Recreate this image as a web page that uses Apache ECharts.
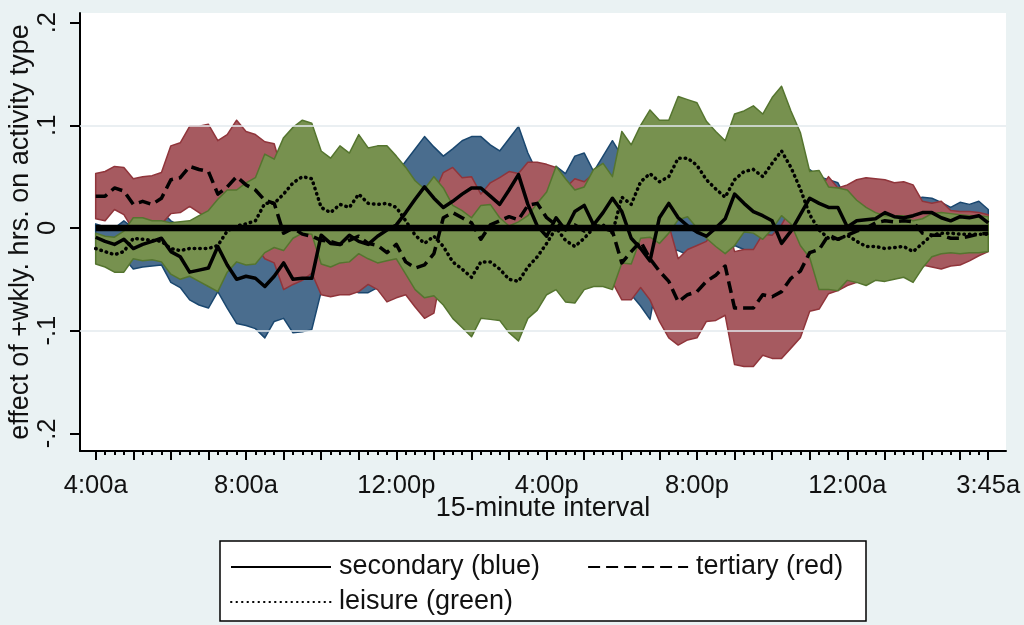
<!DOCTYPE html>
<html lang="en">
<head>
    <meta charset="UTF-8">
    <script src="https://cdn.jsdelivr.net/npm/echarts@6/dist/echarts.min.js"></script>
    <title>effect by 15-minute interval</title>
    <style>
        html, body { margin: 0; padding: 0; background: #eaf2f3; }
        #chartArea { width: 1024px; height: 625px; }
    </style>
</head>
<body>
<div id="chartArea"></div>
<script>
    // 96 quarter-hour slots, 4:00a .. 3:45a
    var slotCount = 96;
    var xLabelPos = [0, 16, 32, 48, 64, 80, 95];
    var xLabels = ['4:00a', '8:00a', '12:00p', '4:00p', '8:00p', '12:00a', '3:45a'];
    var hourTicks = [0, 4, 8, 12, 16, 20, 24, 28, 32, 36, 40, 44, 48, 52, 56, 60, 64, 68, 72, 76, 80, 84, 88, 92, 95];
    var yTicks = [-0.2, -0.1, 0, 0.1, 0.2];
    var yLabels = ['-.2', '-.1', '0', '.1', '.2'];

    // secondary (blue band, solid line): point estimate and half-width of the band
    var secMid = [-.009,-.013,-.016,-.011,-.020,-.016,-.013,-.010,-.023,-.028,
        -.043,-.041,-.039,-.018,-.036,-.050,-.047,-.049,-.057,-.047,
        -.034,-.050,-.049,-.049,-.007,-.015,-.016,-.007,-.013,-.016,
        -.008,-.002,.003,.015,.028,.040,.029,.020,.026,.033,
        .039,.039,.031,.023,.037,.052,.023,.002,-.008,.010,
        -.002,.016,.022,.003,.015,.029,.016,-.010,-.020,-.032,
        .010,.024,.010,.002,-.004,-.008,.000,.009,.033,.024,
        .016,.012,.007,-.015,-.003,.013,.029,.024,.020,.020,
        .001,.007,.008,.009,.015,.011,.010,.012,.015,.015,
        .010,.007,.011,.010,.012,.005];
    var secHalf = [.013,.014,.016,.018,.020,.022,.024,.026,.030,.030,
        .027,.034,.039,.044,.042,.043,.048,.049,.050,.044,
        .054,.052,.052,.050,.055,.050,.047,.053,.050,.047,
        .050,.050,.050,.050,.049,.049,.050,.050,.051,.052,
        .050,.050,.050,.052,.050,.047,.050,.052,.052,.050,
        .055,.054,.051,.052,.055,.056,.054,.055,.056,.057,
        .050,.045,.032,.028,.028,.030,.035,.040,.050,.045,
        .040,.036,.033,.031,.029,.031,.028,.026,.027,.024,
        .025,.022,.023,.020,.019,.018,.018,.016,.015,.014,
        .015,.013,.014,.013,.014,.013];

    // tertiary (red band, dashed line)
    var terMid = [.031,.031,.039,.036,.023,.026,.023,.029,.047,.049,
        .060,.057,.055,.033,.040,.050,.042,.037,.027,.024,
        -.005,.000,-.006,-.008,-.012,-.013,-.016,-.012,-.008,-.015,
        -.017,-.024,-.016,-.033,-.039,-.036,-.025,.010,.015,.010,
        .005,-.011,.003,.007,.011,.008,.022,.024,.010,.003,
        .000,.003,-.003,.003,.000,-.003,-.034,-.023,-.013,-.030,
        -.042,-.052,-.072,-.065,-.062,-.052,-.046,-.037,-.078,-.078,
        -.078,-.065,-.067,-.062,-.049,-.042,-.024,-.021,-.007,-.011,
        -.007,-.003,.000,.005,.007,.006,.007,.006,-.005,-.007,
        -.007,-.010,-.010,-.008,-.006,-.005];
    var terHalf = [.022,.024,.021,.023,.025,.024,.028,.025,.033,.034,
        .039,.042,.046,.052,.051,.055,.052,.054,.057,.058,
        .055,.055,.045,.036,.053,.054,.049,.053,.054,.040,
        .043,.048,.052,.032,.038,.052,.058,.044,.044,.039,
        .045,.044,.041,.042,.044,.045,.042,.040,.052,.056,
        .039,.045,.048,.050,.055,.050,.036,.047,.045,.040,
        .049,.055,.042,.044,.045,.039,.044,.048,.055,.057,
        .057,.059,.060,.065,.068,.065,.057,.058,.057,.050,
        .049,.050,.049,.043,.040,.038,.038,.036,.031,.031,
        .033,.027,.026,.024,.021,.018];

    // leisure (green band, dotted line)
    var leiMid = [-.020,-.023,-.026,-.023,-.010,-.011,-.012,-.013,-.020,-.022,
        -.020,-.020,-.020,-.017,-.003,.002,.004,.007,.024,.024,
        .033,.044,.050,.048,.020,.015,.023,.020,.033,.024,
        .023,.024,.020,.007,-.007,-.015,-.008,-.018,-.033,-.040,
        -.048,-.033,-.033,-.040,-.050,-.052,-.038,-.028,-.015,.000,
        -.012,-.018,-.010,.000,.003,-.005,.030,.023,.045,.053,
        .045,.050,.068,.068,.061,.047,.038,.030,.047,.055,
        .057,.050,.063,.075,.059,.038,.013,-.002,-.010,-.011,
        -.007,-.013,-.018,-.018,-.020,-.019,-.018,-.023,-.015,-.007,
        -.005,-.005,-.006,-.006,-.006,-.006];
    var leiHalf = [.015,.015,.017,.020,.020,.021,.019,.020,.025,.028,
        .027,.032,.037,.045,.040,.035,.040,.042,.048,.043,
        .055,.054,.055,.054,.055,.053,.057,.053,.058,.054,
        .057,.056,.050,.052,.053,.053,.058,.057,.055,.057,
        .058,.055,.056,.050,.052,.058,.050,.052,.050,.060,
        .060,.055,.050,.057,.060,.055,.064,.058,.055,.062,
        .060,.055,.060,.057,.061,.057,.056,.055,.064,.059,
        .062,.061,.064,.063,.055,.055,.042,.058,.050,.050,
        .044,.040,.038,.033,.032,.031,.030,.030,.024,.021,
        .020,.019,.019,.018,.018,.017];

    var zeroLine = secMid.map(function () { return 0; });

    var fontName = 'Liberation Sans, Arial, sans-serif';
    var allSlots = [];
    for (var s = 0; s < slotCount; s++) allSlots.push(s);

    function pairs(arr) {
        return arr.map(function (v, i) { return [i, v]; });
    }

    // confidence band drawn as one polygon: lower edge forward, upper edge back
    function band(key, mid, half, fill, edge, z) {
        return {
            name: key, type: 'custom', z: z, silent: true, clip: true,
            data: [[0, 0]],
            renderItem: function (params, api) {
                var pts = [];
                for (var i = 0; i < mid.length; i++) pts.push(api.coord([i, mid[i] - half[i]]));
                for (var j = mid.length - 1; j >= 0; j--) pts.push(api.coord([j, mid[j] + half[j]]));
                return {
                    type: 'polygon',
                    shape: { points: pts },
                    style: { fill: fill, stroke: edge, lineWidth: 1.5, lineJoin: 'round' }
                };
            }
        };
    }

    function meanLine(name, mid, dash, cap) {
        return {
            name: name, type: 'line', data: pairs(mid), symbol: 'none', z: 5,
            itemStyle: { color: '#000' },
            lineStyle: { color: '#000', width: 3.5, type: dash, cap: cap, join: 'round' }
        };
    }

    var myChart = echarts.init(document.getElementById('chartArea'));

    var legendText = { fontSize: 27, lineHeight: 30, color: '#111', fontFamily: fontName, padding: [0, 0, 0, 3] };

    var option = {
        animation: false,
        backgroundColor: '#eaf2f3',
        grid: {
            left: 80, right: 18, top: 13, bottom: 174,
            containLabel: false, outerBoundsMode: 'none',
            show: true, backgroundColor: '#ffffff', borderWidth: 0
        },
        xAxis: [
            {
                type: 'value', min: -1.67, max: 96.89, position: 'bottom',
                axisLine: { show: true, onZero: false, lineStyle: { color: '#000', width: 2 } },
                axisTick: { show: true, length: 9, customValues: hourTicks, lineStyle: { color: '#000', width: 2 } },
                axisLabel: {
                    customValues: xLabelPos, margin: 22, fontSize: 25.5, color: '#111', fontFamily: fontName,
                    formatter: function (v) { return xLabels[xLabelPos.indexOf(Math.round(v))]; }
                },
                splitLine: { show: false },
                name: '15-minute interval', nameLocation: 'middle', nameGap: 44, nameMoveOverlap: false,
                nameTextStyle: { fontSize: 27, color: '#111', fontFamily: fontName }
            },
            {
                type: 'value', min: -1.67, max: 96.89, position: 'bottom',
                axisLine: { show: false, onZero: false },
                axisTick: { show: true, length: 4, customValues: allSlots, lineStyle: { color: '#000', width: 2 } },
                axisLabel: { show: false },
                splitLine: { show: false }
            }
        ],
        yAxis: {
            type: 'value', min: -0.2172, max: 0.2094,
            axisLine: { show: true, onZero: false, lineStyle: { color: '#000', width: 2 } },
            axisTick: { show: true, length: 10, customValues: yTicks, lineStyle: { color: '#000', width: 2 } },
            axisLabel: {
                customValues: yTicks, rotate: 90, margin: 19, fontSize: 25.5, color: '#111', fontFamily: fontName,
                formatter: function (v) { return yLabels[Math.round(v * 10) + 2]; }
            },
            splitLine: { show: false },
            name: 'effect of +wkly. hrs. on activity type', nameLocation: 'middle', nameRotate: 90,
            nameGap: 46, nameMoveOverlap: false,
            nameTextStyle: { fontSize: 27, color: '#111', fontFamily: fontName }
        },
        legend: [
            {
                data: ['secondary (blue)', 'tertiary (red)'], left: 230, top: 552, padding: 0,
                itemWidth: 100, itemHeight: 14, itemGap: 47, selectedMode: false,
                itemStyle: { opacity: 0 },
                textStyle: legendText
            },
            {
                data: ['leisure (green)'], left: 230, top: 587, padding: 0,
                itemWidth: 100, itemHeight: 14, selectedMode: false,
                itemStyle: { opacity: 0 },
                textStyle: legendText
            }
        ],
        graphic: [
            {
                type: 'rect', z: 0, silent: true,
                shape: { x: 220, y: 541, width: 646, height: 80 },
                style: { fill: '#ffffff', stroke: '#000', lineWidth: 1.5 }
            }
        ],
        series: [
            {
                name: 'grid', type: 'line', data: [], z: 1, silent: true,
                markLine: {
                    silent: true, symbol: 'none', label: { show: false },
                    lineStyle: { color: '#e3eaee', width: 1.5, type: 'solid' },
                    data: [{ yAxis: 0.1 }, { yAxis: -0.1 }]
                }
            },
            band('sec', secMid, secHalf, '#4a6d8e', '#1a476f', 2),
            band('ter', terMid, terHalf, '#a65a60', '#90353b', 3),
            band('lei', leiMid, leiHalf, '#77914f', '#55752f', 4),
            meanLine('secondary (blue)', secMid, 'solid', 'butt'),
            meanLine('tertiary (red)', terMid, [12, 6], 'butt'),
            meanLine('leisure (green)', leiMid, [0.5, 5], 'round'),
            {
                name: 'zero', type: 'line', data: pairs(zeroLine), symbol: 'none', z: 6,
                lineStyle: { color: '#000', width: 6.5 }
            }
        ]
    };

    myChart.setOption(option);
</script>
</body>
</html>
